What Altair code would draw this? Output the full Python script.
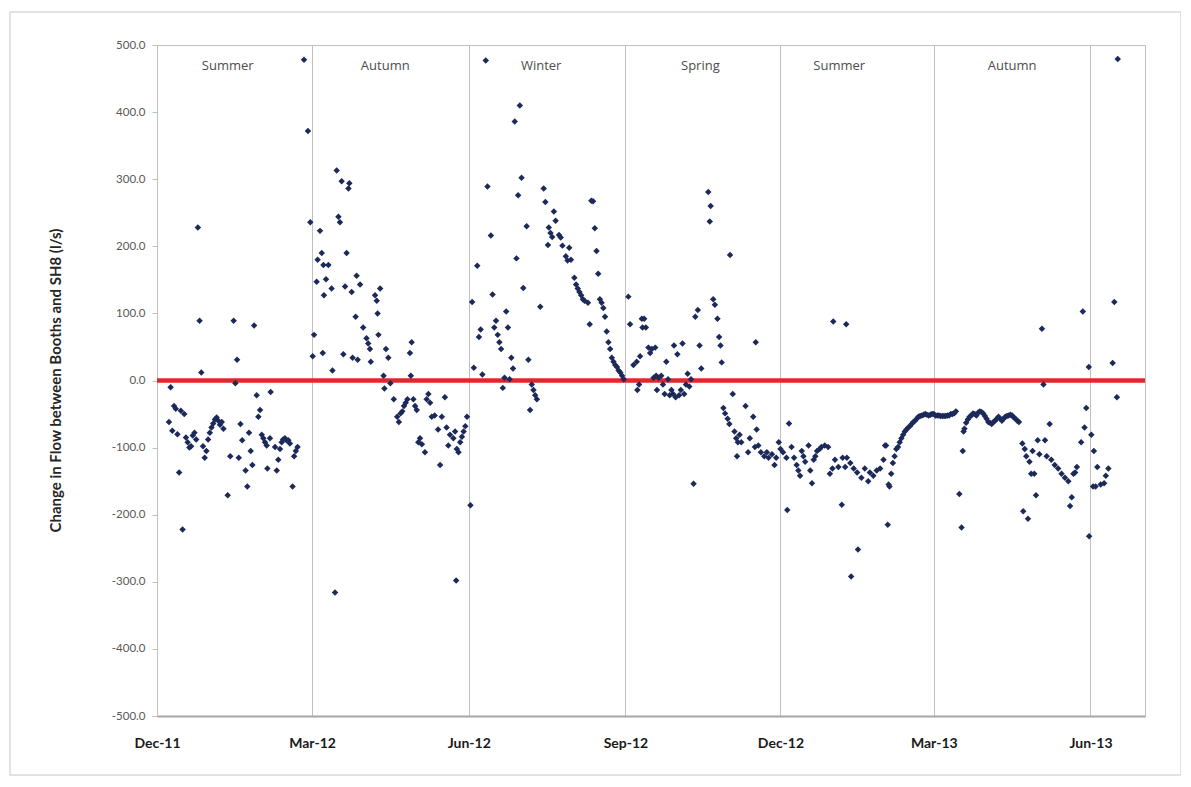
import altair as alt
import pandas as pd

# ---- data: (days since 1 Dec 2011, change in flow l/s) ----
SUMMER_2011 = [(7,-62),(8,-10),(9,-75),(10,-38),(11,-42),(12,-80),(13,-137),(14,-45),(15,-222),(16,-50),
    (17,-85),(18,-92),(19,-100),(20,-98),(21,-82),(22,-78),(23,-88),(24,228),(25,89),(26,12),(27,-98),
    (28,-115),(29,-105),(30,-88),(31,-78),(32,-70),(33,-64),(34,-58),(35,-55),(36,-60),(37,-66),(38,-62),
    (39,-72),(41.5,-171),(43,-113),(45,89),(46,-4),(47,31),(48,-115),(49,-65),(50,-89),(52,-134),(53,-158),
    (54,-78),(55,-105),(56,-126),(57,82),(58.5,-22),(59.5,-54),(60.5,-44),(61.5,-81),(62.4,-86),(63.4,-92),
    (64.4,-97),(64.8,-131),(66.3,-86),(66.7,-17),(69.3,-99),(70.3,-134),(71.2,-118),(72.2,-102),(73.2,-92),
    (74,-88),(75.1,-86),(76,-89),(77.1,-89),(78,-94),(79.6,-158),(80.5,-113),(81.5,-105),(82.5,-99),
    (86.3,478),(88.6,372)]
AUTUMN_2012 = [(90,236),(91.4,36),(92.2,68),(93.7,147),(94.3,180),(95.7,223),(96.7,190),(97.3,41),(97.7,172),
    (98,127),(99.2,151),(100.6,172),(102.5,137),(103,15),(104.5,-316),(105.5,313),(106.5,244),(107.4,236),
    (108.4,297),(109.4,39),(110.4,140),(111.3,190),(112.4,286),(112.9,294),(114.3,132),(114.8,34),(116.6,95),
    (117.2,156),(117.8,31),(119.2,143),(121,79),(123,63),(124,55),(125,47),(125.5,28),(128,127),(129,119),
    (129.5,100),(130,68),(131,137),(133,7),(133.5,-12),(134.4,47),(135.8,34),(137,-4),(139,-28),(141,-54),
    (142,-62),(143,-49),(144,-46),(145,-38),(146,-33),(147,-28),(148.5,41),(149,7),(149.5,57),(150.5,-28),
    (151.5,-38),(152.5,-44),(153.4,-92),(154.4,-86),(155.5,-95),(157.3,-107),(158.3,-28),(159.3,-20),
    (160.3,-33),(161.3,-54),(163,-52),(165,-73),(166.2,-126),(167.2,-54),(169,-25),(170,-70),(171,-97),
    (172,-81),(174,-86),(175,-76),(175.6,-298),(176,-102),(177,-107),(178,-92),(179,-84),(180,-76),
    (181,-68),(182,-54)]
WINTER_2012 = [(184,-186),(185,117),(186,19),(188,171),(189,65),(190,76),(191,9),(193,477),(194,289),(196,216),
    (197,128),(198,79),(199,89),(200,68),(201,57),(202,47),(203,-11),(204,4),(205,103),(206,79),(207,2),
    (208,34),(209,18),(210,386),(211,182),(212,276),(213,410),(214,302),(215,138),(217,230),(218,31),
    (219,-44),(220,-6),(221,-14),(222,-22),(223,-28),(225,110),(227,286),(228,266),(229.5,202),(230,228),
    (231,220),(232,214),(233,252),(234,238),(236,217),(237,213),(238,201),(240,185),(241,179),(242,198),
    (243,180),(245,153),(246,143),(247,137),(248,132),(249,127),(250,121),(251,119),(253,116),(254,84),
    (255,268),(256,267),(257,227),(258,193),(259,159),(260,121),(261,116),(262,108),(263,95),(264,73),
    (265,57),(266,47),(267,34),(268,28),(269,23),(270,20),(271,15),(272,12),(273,7),(274,2)]
SPRING_2012 = [(276.7,125),(277.7,84),(279.7,23),(281.6,28),(282,-14),(283,-6),(283.6,36),(284.6,92),(285,79),
    (286,92),(287,79),(288.5,49),(289.5,41),(290.5,47),(291.5,4),(292.5,49),(293,7),(293.5,-14),(294.5,4),
    (296,7),(297,-6),(298,-20),(299,28),(300,2),(301,-22),(302,-14),(303,-20),(303.5,52),(304.5,-25),
    (305.5,39),(306.5,-22),(307.5,-14),(308.5,55),(309.5,-20),(310.5,-6),(311.5,10),(312.5,-9),(313.5,2),
    (315,-154),(316,95),(317.5,105),(318.5,52),(319.5,18),(323.6,281),(324.5,237),(325,260),(326.5,121),
    (327.5,113),(329,92),(330,65),(330.8,52),(331.5,27),(332.5,-41),(333.5,-49),(335,-57),(336,-65),
    (336.4,187),(338,-20),(339,-76),(340,-86),(340.5,-113),(341,-92),(342,-81),(343,-92),(345.5,-38),
    (347,-107),(348,-86),(350,-54),(351,-99),(351.5,57),(352,-73),(353,-97),(354.5,-107),(356.5,-113),
    (358,-107),(359,-115),(361,-110),(362.5,-126),(363.5,-115),(365,-92)]
SUMMER_2012 = [(366,-102),(367.5,-107),(369.5,-115),(370,-193),(371,-64),(372.5,-99),(374,-115),(375.5,-126),
    (376.5,-134),(377.5,-142),(378.5,-105),(379.5,-113),(380.5,-121),(382.5,-97),(383.5,-134),(384.5,-153),
    (385.5,-118),(386.5,-113),(387.5,-105),(389,-102),(390,-99),(392,-97),(394,-99),(395,-139),(396.5,-131),
    (397,88),(398,-118),(400,-129),(402,-185),(402.5,-115),(404,-129),(404.6,84),(405,-115),(407,-123),
    (407.5,-292),(409,-131),(411.5,-252),(411,-137),(413.5,-145),(415.5,-131),(417.5,-150),(418.5,-137),
    (420.5,-142),(422.5,-134),(424.5,-131),(426.5,-118),(427.4,-97),(428,-97),(429,-215),(429.5,-155),
    (430,-158),(431,-139),(432,-123),(433,-113),(434,-102),(435,-99),(436,-92),(437,-86),(438,-81),
    (439,-76),(440,-73),(441,-70),(442,-68),(443,-65),(444,-62),(445,-60),(446,-57),(447,-54),(448,-53),
    (449,-52),(450,-51),(451,-50),(452,-51),(453,-52),(454,-51),(455,-50)]
AUTUMN_2013 = [(456,-50),(457,-52),(458,-52),(459,-52),(460,-53),(461,-53),(462,-53),(463,-53),(464,-52),
    (465,-52),(466,-50),(467,-50),(468,-49),(469,-46),(471,-169),(472.3,-219),(473,-105),(473.5,-76),
    (474,-72),(475,-63),(476,-58),(477,-54),(478,-52),(479,-49),(480,-50),(481,-52),(482,-48),(483,-46),
    (484,-47),(485,-49),(486,-53),(487,-57),(488,-62),(489,-63),(490,-65),(491,-62),(492,-60),(493,-57),
    (494,-54),(495,-57),(496,-60),(497,-57),(498,-54),(499,-53),(500,-52),(501,-51),(502,-52),(503,-55),
    (504,-57),(505,-60),(506,-62),(508,-94),(508.5,-195),(509.4,-102),(510.3,-113),(511.3,-206),(512.2,-121),
    (513.2,-139),(514,-105),(515,-139),(516,-171),(517,-89),(518,-110),(519.5,77),(520.4,-6),(521.3,-89),
    (522.3,-113),(524,-65),(525,-118),(527,-126),(529,-131),(531,-139),(533,-145),(535,-150),(536,-187),
    (537,-174),(538,-139),(539,-137),(540,-129),(542.5,-92),(543.5,103),(544.5,-70),(545.5,-41),(547,20),
    (547.2,-232),(548.5,-81),(549.5,-158),(550,-105),(551,-158),(552,-129),(554,-155),(556,-153),
    (557,-142),(558.5,-131),(561,26),(562,117),(563.5,-25),(564,479)]

SEASON_NAMES = ["Summer", "Autumn", "Winter", "Spring", "Summer", "Autumn"]
SEASON_LABEL_DAYS = [41.5, 134, 225.5, 319, 400.5, 502]
SEASON_LABEL_Y = 468

TICK_DATES = ["2011-12-01", "2012-03-01", "2012-06-01", "2012-09-01", "2012-12-01", "2013-03-01", "2013-06-01"]
ZERO_LINE_DATES = ["2011-12-01", "2012-01-01", "2012-02-01", "2012-03-01", "2012-04-01", "2012-05-01",
                   "2012-06-01", "2012-07-01", "2012-08-01", "2012-09-01", "2012-10-01", "2012-11-01",
                   "2012-12-01", "2013-01-01", "2013-02-01", "2013-03-01", "2013-04-01", "2013-05-01",
                   "2013-06-01", "2013-07-01", "2013-07-03"]
X_DOMAIN = ["2011-12-01", "2013-07-03"]
START = pd.Timestamp("2011-12-01", tz="UTC")


def ms_from_day(d):
    return int((START + pd.Timedelta(days=d)).timestamp() * 1000)


def ms_from_str(s):
    return int(pd.Timestamp(s, tz="UTC").timestamp() * 1000)


rows = []
for series in [SUMMER_2011, AUTUMN_2012, WINTER_2012, SPRING_2012, SUMMER_2012, AUTUMN_2013]:
    for d, v in series:
        rows.append({"t": ms_from_day(d), "v": v})
points_df = pd.DataFrame(rows)
zero_df = pd.DataFrame({"t": [ms_from_str(s) for s in ZERO_LINE_DATES], "v": [0] * len(ZERO_LINE_DATES)})
labels_df = pd.DataFrame({"t": [ms_from_day(d) for d in SEASON_LABEL_DAYS],
                          "v": [SEASON_LABEL_Y] * len(SEASON_NAMES),
                          "label": SEASON_NAMES})

FONT = "Lato"

x_enc = alt.X(
    "t:T",
    scale=alt.Scale(type="utc", domain=[ms_from_str(s) for s in X_DOMAIN]),
    axis=alt.Axis(values=[ms_from_str(s) for s in TICK_DATES],
                  labelExpr="utcFormat(datum.value, '%b-%y')",
                  grid=True, gridColor="#bfbfbf", gridWidth=1, ticks=False, labelPadding=20,
                  labelFontSize=14, labelFontWeight="bold", labelColor="#1a1a1a", labelFont=FONT,
                  labelFlush=False, labelOverlap=False, domainColor="#a6a6a6", domainWidth=2, title=None),
)
y_enc = alt.Y(
    "v:Q",
    scale=alt.Scale(domain=[-500, 500], nice=False, zero=False),
    axis=alt.Axis(values=list(range(-500, 501, 100)),
                  labelExpr="replace(format(datum.value, '.1f'), '\u2212', '-')",
                  grid=False, tickSize=5,
                  tickColor="#bfbfbf", domainColor="#bfbfbf", labelColor="#595959", labelFontSize=11.5,
                  labelFont=FONT, labelPadding=7,
                  title="Change in Flow between Booths and SH8 (l/s)", titleFontSize=15,
                  titleFontWeight="bold", titleColor="#262626", titleFont=FONT,
                  titleX=-102, titleY=335, titleBaseline="middle", titleAngle=270),
)

frame = alt.Chart(alt.Data(values=[{"a": 1}])).mark_rect(
    fillOpacity=0, stroke="#d9d9d9", strokeWidth=1.5
).encode(x=alt.value(-147), x2=alt.value(1024), y=alt.value(-33), y2=alt.value(730))

zero_line = alt.Chart(zero_df).mark_line(color="#e3262b", strokeWidth=4.5).encode(x=x_enc, y=y_enc)

pts = alt.Chart(points_df).mark_point(shape="diamond", filled=True, size=42, color="#1c2a5a",
                                       opacity=1).encode(x=x_enc, y=y_enc)

labels = alt.Chart(labels_df).mark_text(font="Open Sans", fontSize=13, color="#4d4d4d").encode(
    x=x_enc, y=y_enc, text="label:N")

chart = alt.layer(frame, zero_line, pts, labels).properties(
    width=988, height=671,
    autosize=alt.AutoSizeParams(type="none"),
    padding={"left": 149, "top": 37, "right": 36, "bottom": 61},
).configure_view(stroke="#bfbfbf", strokeWidth=1)

chart.save("out.html", embed_options={"renderer": "svg", "actions": False})
